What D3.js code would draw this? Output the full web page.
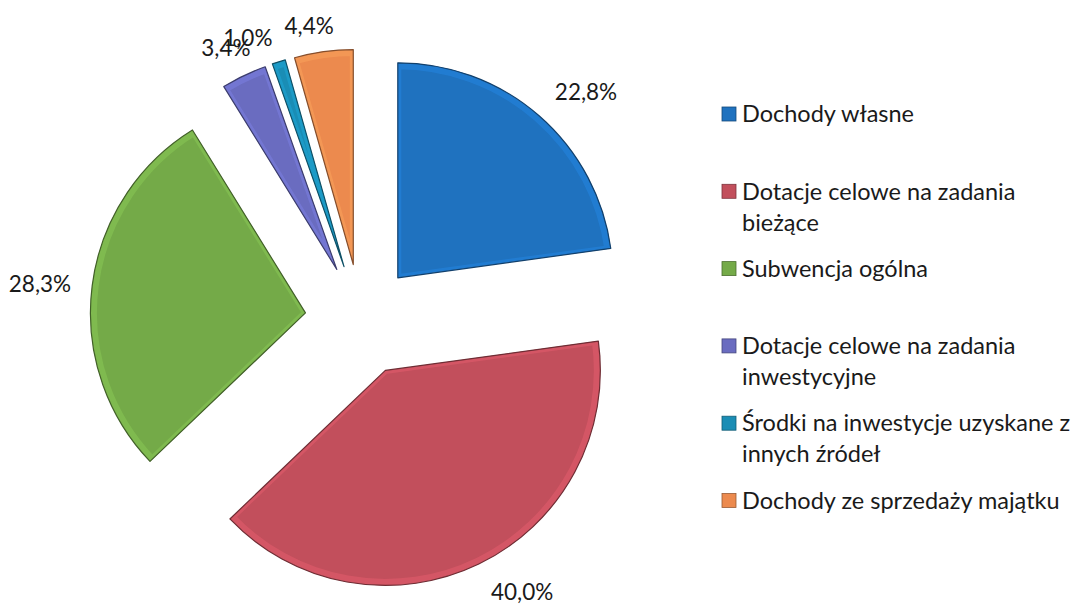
<!DOCTYPE html>
<html>
<head>
	<meta charset="utf-8">
	<script src="https://cdnjs.cloudflare.com/ajax/libs/d3/7.8.5/d3.min.js"></script>
	<style>
		body {
			margin: 0;
			background: #fff;
		}
		text {
			font-family: Lato, "Open Sans", sans-serif;
			fill: #1a1a1a;
		}
	</style>
</head>
<body>
	<svg width="1077" height="605" id="chart"></svg>

	<script>
	// data
	var categories = [
		"Dochody własne",
		"Dotacje celowe na zadania bieżące",
		"Subwencja ogólna",
		"Dotacje celowe na zadania inwestycyjne",
		"Środki na inwestycje uzyskane z innych źródeł",
		"Dochody ze sprzedaży majątku"
	];
	var values = [22.8, 40.0, 28.3, 3.4, 1.0, 4.4];
	var legendLines = [
		["Dochody własne"],
		["Dotacje celowe na zadania", "bieżące"],
		["Subwencja ogólna"],
		["Dotacje celowe na zadania", "inwestycyjne"],
		["Środki na inwestycje uzyskane z", "innych źródeł"],
		["Dochody ze sprzedaży majątku"]
	];
	var colors = ["#1f72bf", "#c24f5c", "#74aa48", "#6a6cc0", "#1a8db5", "#ec8a4e"];

	var svg = d3.select("svg"),
		cx = 361, cy = 320,
		radius = 215,
		explode = 56;

	// label placement: angle nudge (degrees) and distance from the pie centre
	var labelNudge = [3.6, -4.9, -1, -0.8, -4.2, -2.1];
	var labelDist = [320, 316, 323, 304, 304, 298];

	var pie = d3.pie().sort(null).value(function(d) { return d; });
	var arcs = pie(values);

	var arc = d3.arc().innerRadius(0).outerRadius(radius);
	var innerArc = d3.arc().innerRadius(0).outerRadius(radius - 3);

	var fmt = function(v) { return d3.format(".1f")(v).replace(".", ",") + "%"; };

	var defs = svg.append("defs");

	var g = svg.append("g").attr("transform", "translate(" + cx + "," + cy + ")");

	var slice = g.selectAll(".slice")
		.data(arcs)
		.enter().append("g")
		.attr("class", "slice")
		.attr("transform", function(d) {
			var a = (d.startAngle + d.endAngle) / 2;
			return "translate(" + (Math.sin(a) * explode) + "," + (-Math.cos(a) * explode) + ")";
		});

	// clip for the bevel highlight
	slice.each(function(d, i) {
		defs.append("clipPath").attr("id", "clip" + i)
			.append("path").attr("d", arc(d));
	});

	slice.append("path")
		.attr("d", arc)
		.attr("fill", function(d, i) { return colors[i]; });

	// soft light rim inside the edge
	slice.append("path")
		.attr("d", innerArc)
		.attr("clip-path", function(d, i) { return "url(#clip" + i + ")"; })
		.attr("fill", "none")
		.attr("stroke", function(d, i) { return d3.color(colors[i]).brighter(0.6); })
		.attr("stroke-width", 7)
		.attr("stroke-opacity", 0.4);

	slice.append("path")
		.attr("d", arc)
		.attr("fill", "none")
		.attr("stroke", function(d, i) { return d3.color(colors[i]).darker(1.6); })
		.attr("stroke-width", 1.2)
		.attr("stroke-linejoin", "round");

	// percentage labels
	function labelPos(d, i) {
		var a = (d.startAngle + d.endAngle) / 2 + labelNudge[i] * Math.PI / 180;
		return [Math.sin(a) * labelDist[i], -Math.cos(a) * labelDist[i]];
	}

	g.selectAll(".label")
		.data(arcs)
		.enter().append("text")
		.attr("class", "label")
		.attr("x", function(d, i) { return labelPos(d, i)[0]; })
		.attr("y", function(d, i) { return labelPos(d, i)[1]; })
		.attr("dy", "0.35em")
		.attr("text-anchor", "middle")
		.style("font-size", "22.5px")
		.text(function(d) { return fmt(d.data); });

	// legend
	var legend = svg.append("g").attr("transform", "translate(722,114)");

	var item = legend.selectAll(".item")
		.data(categories)
		.enter().append("g")
		.attr("class", "item")
		.attr("transform", function(d, i) { return "translate(0," + (i * 77.3) + ")"; });

	item.append("rect")
		.attr("x", 0)
		.attr("y", -7)
		.attr("width", 14)
		.attr("height", 14)
		.attr("fill", function(d, i) { return colors[i]; })
		.attr("stroke", function(d, i) { return d3.color(colors[i]).darker(1.2); })
		.attr("stroke-width", 0.8);

	item.append("text")
		.attr("x", 20)
		.attr("y", 0)
		.style("font-size", "23.5px")
		.selectAll("tspan")
		.data(function(d, i) { return legendLines[i]; })
		.enter().append("tspan")
		.attr("x", 20)
		.attr("dy", function(d, j) { return j === 0 ? "0.35em" : "31px"; })
		.text(function(d) { return d; });
	</script>
</body>
</html>
